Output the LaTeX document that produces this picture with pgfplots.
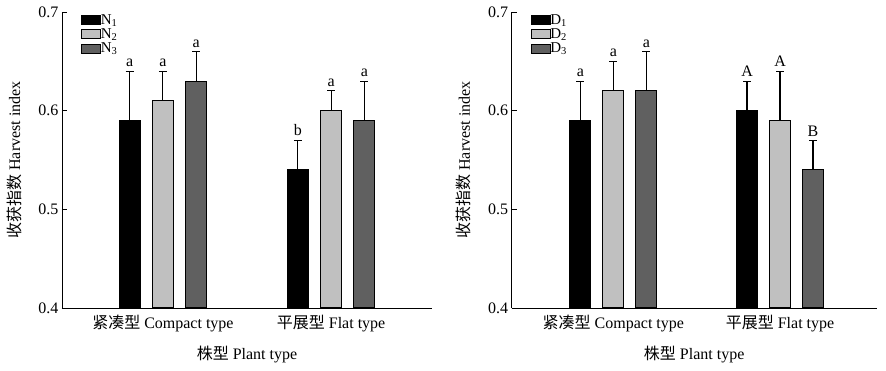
\documentclass[border=0pt]{standalone}
\usepackage{fontspec}
\setmainfont{Liberation Serif}
\newfontfamily\cjk{Noto Sans CJK SC}
\usepackage{pgfplots}
\pgfplotsset{compat=1.18}
\definecolor{lgray}{RGB}{192,192,192}
\definecolor{dgray}{RGB}{96,96,96}

\pgfplotsset{
 hiplot/.style={
   scale only axis, height=296pt,
   ymin=0.4, ymax=0.7, ytick={0.4,0.5,0.6,0.7},
   xtick={0,1},
   xticklabels={{\cjk 紧凑型} Compact type,{\cjk 平展型} Flat type},
   axis lines*=left, axis line style={line width=0.9pt},
   tick align=inside, major tick length=5pt, tick style={line width=0.9pt, black},
   xtick style={draw=none},
   xticklabel style={yshift=-4pt},
   font=\fontsize{16}{19}\selectfont,
   /pgf/number format/assume math mode=true,
   yticklabel style={/pgf/number format/fixed, /pgf/number format/precision=1, /pgf/number format/fixed zerofill},
   xlabel={{\cjk 株型} Plant type},
   ylabel={{\cjk 收获指数} Harvest index},
   every axis x label/.style={at={(axis description cs:0.5,0)}, yshift=-47pt, anchor=center},
   every axis y label/.style={at={(axis description cs:0,0.5)}, xshift=-48pt, rotate=90, anchor=center},
   legend style={draw=none, fill=none, at={(0.043,1.0)}, anchor=north west,
     font=\fontsize{15}{18}\selectfont, nodes={inner sep=0pt}, row sep=3pt, legend cell align=left},
   legend image code/.code={\draw[##1, line width=0.8pt] (0pt,-4.5pt) rectangle (19pt,4.5pt);},
   bar width=0.125,
 },
 hibar/.style={ybar, bar shift=0pt, draw=black, line width=1pt, fill=#1, mark=none,
   error bars/.cd, y dir=plus, y explicit,
   error bar style={line width=1.1pt, black},
   error mark options={rotate=90, mark size=4pt, line width=1.1pt, black}},
 letters/.style={forget plot, only marks, mark=*, mark size=0pt, draw=none, fill=none,
   nodes near coords, point meta=explicit symbolic,
   nodes near coords style={anchor=south, inner sep=4pt, text=black, font=\fontsize{16}{19}\selectfont}},
}

\begin{document}
\begin{tikzpicture}
\path[use as bounding box] (-62pt,-63pt) rectangle (824pt,308pt);
% Left panel: nitrogen
\begin{axis}[hiplot, width=370pt, xmin=-0.6, xmax=1.6]
\addplot[hibar=black] coordinates {(-0.198,0.59) +- (0,0.05) (0.802,0.54) +- (0,0.03)};
\addplot[hibar=lgray] coordinates {(0,0.61) +- (0,0.03) (1,0.60) +- (0,0.02)};
\addplot[hibar=dgray] coordinates {(0.198,0.63) +- (0,0.03) (1.198,0.59) +- (0,0.04)};
\legend{N\textsubscript{1},N\textsubscript{2},N\textsubscript{3}}
\addplot[letters] coordinates {(-0.198,0.64) [a] (0,0.64) [a] (0.198,0.66) [a]
  (0.802,0.57) [b] (1,0.62) [a] (1.198,0.63) [a]};
\end{axis}
% Right panel: density
\begin{axis}[hiplot, at={(449.7pt,0pt)}, width=365pt, xmin=-0.61, xmax=1.58]
\addplot[hibar=black] coordinates {(-0.198,0.59) +- (0,0.04) (0.802,0.60) +- (0,0.03)};
\addplot[hibar=lgray] coordinates {(0,0.62) +- (0,0.03) (1,0.59) +- (0,0.05)};
\addplot[hibar=dgray] coordinates {(0.198,0.62) +- (0,0.04) (1.198,0.54) +- (0,0.03)};
\legend{D\textsubscript{1},D\textsubscript{2},D\textsubscript{3}}
\addplot[letters] coordinates {(-0.198,0.63) [a] (0,0.65) [a] (0.198,0.66) [a]
  (0.802,0.63) [A] (1,0.64) [A] (1.198,0.57) [B]};
\end{axis}
\end{tikzpicture}
\end{document}
